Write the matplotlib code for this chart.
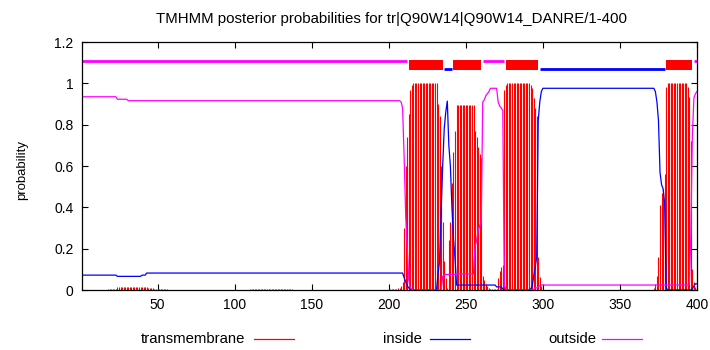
import numpy as np
import matplotlib
matplotlib.use("Agg")
import matplotlib.pyplot as plt
from matplotlib.lines import Line2D
from matplotlib.patches import Rectangle

plt.rcParams['font.family'] = ['Liberation Sans', 'DejaVu Sans']

title = "TMHMM posterior probabilities for tr|Q90W14|Q90W14_DANRE/1-400"
n_res = 400

# step tables: the value holds from that residue up to the next entry
tm_from = [1, 18, 24, 44, 48, 57, 110, 138, 200, 205, 206, 208, 209, 210, 211, 212, 213,
           214, 215, 216, 232, 233, 234, 235, 236, 237, 238, 239, 240, 241, 242, 243, 244,
           256, 257, 258, 259, 260, 261, 262, 263, 264, 265, 266, 271, 272, 273, 274, 275,
           276, 277, 292, 293, 294, 295, 296, 297, 298, 299, 300, 301, 372, 373, 374, 375,
           376, 377, 378, 379, 380, 381, 394, 395, 396, 397, 398, 399, 400]
tm_prob = [0, 0.004, 0.013, 0.008, 0.004, 0, 0.004, 0, 0.003, 0.005, 0.01, 0.02, 0.04, 0.3,
           0.6, 0.74, 0.85, 0.97, 0.99, 1.0, 0.9, 0.84, 0.6, 0.33, 0.14, 0.06, 0.01, 0.24,
           0.33, 0.52, 0.67, 0.77, 0.897, 0.77, 0.74, 0.69, 0.66, 0.64, 0.07, 0.05, 0.03,
           0.02, 0.01, 0.005, 0.06, 0.09, 0.11, 0.12, 0.97, 0.99, 1.0, 0.99, 0.976, 0.93,
           0.88, 0.84, 0.16, 0.065, 0.02, 0.005, 0, 0.008, 0.03, 0.07, 0.16, 0.41, 0.47,
           0.49, 0.56, 0.98, 1.0, 0.98, 0.935, 0.72, 0.1, 0.04, 0.015, 0.01]

in_from = [1, 24, 40, 43, 210, 211, 212, 213, 214, 215, 232, 233, 234, 235, 236, 237, 238,
           239, 240, 241, 242, 243, 244, 270, 274, 275, 292, 293, 294, 295, 296, 297, 298,
           299, 300, 373, 374, 375, 376, 377, 378, 379, 380, 381, 397, 398, 399]
in_prob = [0.072, 0.066, 0.072, 0.082, 0.06, 0.04, 0.02, 0.01, 0.005, 0, 0.08, 0.14, 0.38,
           0.6, 0.78, 0.86, 0.914, 0.7, 0.6, 0.4, 0.25, 0.155, 0.024, 0.015, 0.005, 0,
           0.005, 0.016, 0.065, 0.11, 0.16, 0.82, 0.91, 0.96, 0.976, 0.96, 0.91, 0.82,
           0.57, 0.51, 0.49, 0.42, 0.01, 0, 0.005, 0.02, 0.03]

out_from = [1, 24, 31, 208, 209, 210, 211, 212, 213, 214, 215, 216, 235, 236, 244, 256,
            257, 258, 259, 260, 261, 262, 263, 264, 265, 266, 271, 272, 273, 274, 275, 276,
            277, 295, 297, 298, 299, 396, 397, 398, 399, 400]
out_prob = [0.935, 0.923, 0.916, 0.91, 0.88, 0.64, 0.36, 0.2, 0.05, 0.01, 0.005, 0, 0.065,
            0.075, 0.078, 0.21, 0.24, 0.29, 0.31, 0.33, 0.91, 0.92, 0.94, 0.95, 0.96, 0.976,
            0.91, 0.89, 0.88, 0.87, 0.02, 0.005, 0, 0.01, 0.015, 0.02, 0.024, 0.27, 0.75,
            0.93, 0.95, 0.96]

# predicted topology
topo_start = [1, 213, 236, 242, 261, 276, 298, 380, 398]
topo_end = [212, 235, 241, 260, 275, 297, 379, 397, 400]
topo_kind = ['outside', 'TMhelix', 'inside', 'TMhelix', 'outside', 'TMhelix', 'inside',
             'TMhelix', 'outside']


def expand(starts, vals):
    # turn a step table into one value per residue
    lens = np.diff(list(starts) + [n_res + 1])
    return np.repeat(vals, lens)


res = np.arange(1, n_res + 1)
tm = expand(tm_from, tm_prob)
inside = expand(in_from, in_prob)
outside = expand(out_from, out_prob)

fig = plt.figure(figsize=(7.1, 3.5), dpi=100)
ax = fig.add_axes([82 / 710, 60 / 350, 615 / 710, 248 / 350])

ax.vlines(res, 0, tm, color='#ff0000', lw=0.8)
ax.plot(res, inside, color='#0000ff', lw=0.9)
ax.plot(res, outside, color='#ff00ff', lw=0.9)

for s, e, k in zip(topo_start, topo_end, topo_kind):
    if k == 'outside':
        ax.plot([s, e], [1.11, 1.11], color='#ff00ff', lw=2, solid_capstyle='butt')
    elif k == 'inside':
        ax.plot([s, e], [1.068, 1.068], color='#0000ff', lw=2, solid_capstyle='butt')
    else:
        ax.add_patch(Rectangle((s, 1.066), e - s, 0.047, color='#ff0000', lw=0))

ax.set_xlim(1, 400)
ax.set_ylim(0, 1.2)
ax.set_xticks([50, 100, 150, 200, 250, 300, 350, 400])
ax.set_yticks([0, 0.2, 0.4, 0.6, 0.8, 1.0, 1.2])
ax.set_yticklabels(['0', '0.2', '0.4', '0.6', '0.8', '1', '1.2'])
ax.tick_params(direction='in', top=True, right=True, length=4, width=0.8,
               labelsize=10, pad=6)
ax.tick_params(axis='x', pad=6)
for sp in ax.spines.values():
    sp.set_linewidth(0.9)

fig.text(22 / 710, 1 - 170 / 350, 'probability', rotation=90, ha='center', va='center',
         fontsize=9.5)
fig.text(391 / 710, 1 - 19 / 350, title, ha='center', va='center', fontsize=10.8)

# legend along the bottom, gnuplot style
leg_y = 1 - 339 / 350
legend_items = [('transmembrane', '#ff0000', 245, 254),
                ('inside', '#0000ff', 422, 430),
                ('outside', '#ff00ff', 596, 602)]
for name, col, txt_right, line_left in legend_items:
    fig.text(txt_right / 710, leg_y, name, ha='right', va='center', fontsize=10.7)
    fig.add_artist(Line2D([line_left / 710, (line_left + 40) / 710], [leg_y, leg_y],
                          color=col, lw=0.9))

fig.savefig('out.png', dpi=100)
